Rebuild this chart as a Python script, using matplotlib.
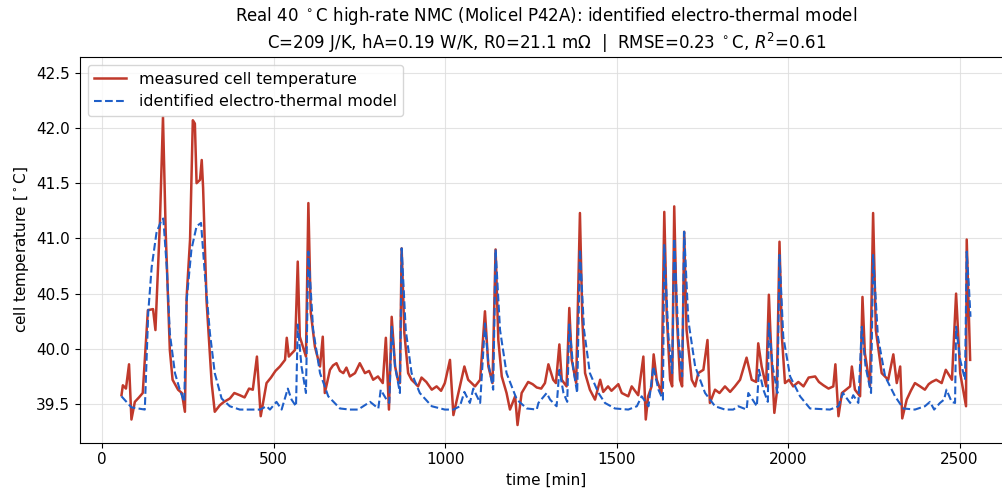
import matplotlib
matplotlib.use("Agg")
import matplotlib.pyplot as plt

# measured cell temperature (time [min], temperature [°C])
meas_t = [56, 60, 69, 78, 85, 95, 107, 118, 133, 148, 155, 168, 177, 185, 197, 205, 221, 232, 241,
          246, 256, 264, 270, 275, 285, 290, 294, 304, 319, 328, 343, 372, 401, 439, 451, 462, 479,
          518, 533, 538, 544, 562, 570, 576, 585, 594, 601, 608, 620, 635, 643, 649, 664, 683, 703,
          722, 751, 766, 804, 818, 827, 836, 844, 854, 862, 868, 873, 881, 892, 912, 931, 961, 999,
          1014, 1024, 1043, 1056, 1067, 1087, 1102, 1116, 1126, 1138, 1147, 1155, 1165, 1179, 1189,
          1204, 1211, 1223, 1242, 1267, 1291, 1301, 1315, 1323, 1333, 1340, 1354, 1362, 1369, 1382,
          1393, 1400, 1408, 1422, 1437, 1452, 1461, 1495, 1515, 1534, 1544, 1563, 1578, 1585, 1592,
          1602, 1608, 1617, 1631, 1639, 1646, 1656, 1662, 1668, 1675, 1685, 1691, 1697, 1704, 1719,
          1729, 1738, 1753, 1765, 1772, 1787, 1816, 1831, 1860, 1879, 1894, 1907, 1913, 1923, 1936,
          1944, 1949, 1955, 1960, 1967, 1975, 1982, 1991, 2015, 2045, 2079, 2103, 2132, 2138, 2147,
          2157, 2181, 2186, 2195, 2210, 2217, 2224, 2239, 2248, 2256, 2273, 2292, 2307, 2317, 2327,
          2333, 2346, 2370, 2399, 2419, 2448, 2460, 2478, 2490, 2502, 2519, 2521, 2531]
meas_T = [39.58, 39.67, 39.64, 39.86, 39.36, 39.52, 39.56, 39.60, 40.35, 40.36, 40.17, 41.14, 42.10,
          41.05, 39.99, 39.72, 39.63, 39.60, 39.43, 40.47, 40.99, 42.07, 42.04, 41.50, 41.53, 41.71,
          41.46, 40.44, 39.69, 39.43, 39.49, 39.55, 39.58, 39.63, 39.93, 39.39, 39.69, 39.84, 39.90,
          40.10, 39.93, 39.99, 40.79, 40.11, 40.02, 39.93, 41.32, 40.33, 40.02, 39.84, 40.11, 39.60,
          39.81, 39.87, 39.78, 39.75, 39.87, 39.78, 39.75, 39.69, 40.10, 39.45, 40.29, 39.84, 39.72,
          39.69, 40.91, 40.14, 39.78, 39.69, 39.74, 39.63, 39.69, 39.90, 39.40, 39.66, 39.84, 39.72,
          39.66, 39.72, 40.34, 39.84, 39.69, 40.90, 40.08, 39.75, 39.60, 39.45, 39.57, 39.31, 39.60,
          39.70, 39.65, 39.69, 39.86, 39.72, 39.69, 40.04, 39.72, 39.66, 40.37, 39.90, 39.69, 41.23,
          40.26, 39.78, 39.63, 39.54, 39.72, 39.61, 39.65, 39.60, 39.57, 39.66, 39.58, 39.93, 39.36,
          39.57, 39.66, 39.95, 39.72, 39.60, 41.24, 40.32, 39.72, 39.66, 41.29, 40.32, 39.72, 39.66,
          41.06, 40.17, 39.72, 39.66, 39.78, 39.81, 40.08, 39.51, 39.63, 39.66, 39.61, 39.72, 39.92,
          39.72, 39.70, 40.05, 39.84, 39.66, 40.49, 40.11, 39.72, 39.42, 39.60, 40.97, 40.11, 39.69,
          39.66, 39.66, 39.75, 39.67, 39.66, 39.86, 39.39, 39.60, 39.66, 39.84, 39.63, 39.57, 40.47,
          39.96, 39.66, 41.23, 40.17, 39.78, 39.72, 39.95, 39.69, 39.84, 39.37, 39.54, 39.69, 39.63,
          39.70, 39.69, 39.81, 39.72, 40.50, 39.78, 39.48, 40.99, 39.90]

# additional readings of the measured trace in its flatter stretches
meas_t_extra = [355, 385, 415, 428, 492, 505, 673, 693, 712, 737, 778, 790, 902, 921, 945, 975,
                988, 1255, 1280, 1475, 1485, 1505, 1800, 1845, 2003, 2030, 2060, 2090, 2118,
                2358, 2385, 2410, 2432]
meas_T_extra = [39.52, 39.60, 39.56, 39.64, 39.74, 39.80, 39.85, 39.80, 39.83, 39.78, 39.80, 39.72,
                39.72, 39.66, 39.70, 39.66, 39.62, 39.68, 39.64, 39.66, 39.62, 39.68, 39.60, 39.66,
                39.72, 39.70, 39.74, 39.70, 39.64, 39.62, 39.66, 39.68, 39.72]

# identified electro-thermal model
model_t = [56, 85, 124, 134, 144, 158, 173, 178, 188, 197, 212, 226, 239, 246, 260, 275, 288, 299,
           314, 328, 348, 372, 401, 460, 479, 489, 508, 523, 541, 552, 565, 570, 581, 594, 601, 615,
           635, 659, 693, 722, 746, 781, 805, 812, 829, 837, 844, 854, 868, 873, 885, 902, 926, 961,
           999, 1024, 1043, 1056, 1072, 1082, 1102, 1116, 1126, 1140, 1147, 1160, 1179, 1209, 1238,
           1267, 1272, 1296, 1306, 1325, 1333, 1345, 1356, 1362, 1374, 1385, 1393, 1405, 1422, 1447,
           1466, 1495, 1534, 1559, 1573, 1593, 1607, 1622, 1635, 1639, 1651, 1662, 1668, 1680, 1691,
           1697, 1709, 1729, 1758, 1787, 1816, 1840, 1855, 1879, 1884, 1909, 1915, 1928, 1941, 1944,
           1955, 1969, 1975, 1986, 2006, 2035, 2064, 2122, 2147, 2160, 2181, 2190, 2205, 2215, 2226,
           2242, 2248, 2262, 2283, 2312, 2336, 2370, 2399, 2414, 2426, 2443, 2455, 2462, 2477, 2487,
           2490, 2502, 2516, 2521, 2528, 2532]
model_T = [39.57, 39.47, 39.45, 40.33, 40.74, 41.05, 41.17, 41.18, 40.74, 40.14, 39.78, 39.63, 39.52,
           40.44, 40.90, 41.11, 41.14, 40.68, 40.14, 39.78, 39.55, 39.48, 39.45, 39.45, 39.48, 39.45,
           39.52, 39.45, 39.64, 39.54, 39.48, 40.22, 39.84, 39.60, 40.88, 40.17, 39.78, 39.57, 39.46,
           39.45, 39.45, 39.52, 39.46, 39.63, 39.54, 39.51, 40.20, 39.84, 39.60, 40.91, 40.17, 39.78,
           39.60, 39.48, 39.45, 39.45, 39.48, 39.61, 39.51, 39.64, 39.51, 40.23, 39.87, 39.63, 40.90,
           40.17, 39.78, 39.54, 39.46, 39.45, 39.51, 39.60, 39.54, 39.48, 39.81, 39.60, 39.52, 40.22,
           39.81, 39.60, 40.90, 40.17, 39.78, 39.60, 39.51, 39.46, 39.45, 39.48, 39.57, 39.48, 39.84,
           39.63, 39.54, 40.94, 40.11, 39.78, 41.00, 40.11, 39.75, 41.06, 40.26, 39.84, 39.60, 39.48,
           39.45, 39.45, 39.48, 39.45, 39.60, 39.48, 39.81, 39.63, 39.52, 40.23, 39.84, 39.60, 40.85,
           40.11, 39.75, 39.57, 39.46, 39.45, 39.48, 39.60, 39.51, 39.58, 39.51, 40.20, 39.84, 39.60,
           40.85, 40.11, 39.75, 39.57, 39.46, 39.45, 39.48, 39.52, 39.45, 39.51, 39.54, 39.63, 39.52,
           39.51, 40.20, 39.90, 39.72, 40.88, 40.53, 40.29]

x_ticks = [0, 500, 1000, 1500, 2000, 2500]
y_ticks = [39.5, 40.0, 40.5, 41.0, 41.5, 42.0, 42.5]

# merge the measured readings in time order
pairs = sorted(zip(meas_t + meas_t_extra, meas_T + meas_T_extra), key=lambda p: p[0])
m_t = [p[0] for p in pairs]
m_T = [p[1] for p in pairs]

plt.rcParams['font.family'] = ['DejaVu Sans']
plt.rcParams['font.size'] = 11

fig = plt.figure(figsize=(10.03, 4.91), dpi=100)
ax = fig.add_axes([80 / 1003, (491 - 442.7) / 491, 933 / 1003, 385.4 / 491])

ax.plot(m_t, m_T, color='#c0392b', lw=1.8, label='measured cell temperature', zorder=2)
ax.plot(model_t, model_T, color='#1f5fc8', lw=1.5, ls='--', label='identified electro-thermal model', zorder=3)

ax.set_xlim(-65, 2656)
ax.set_ylim(39.15, 42.64)
ax.set_xticks(x_ticks)
ax.set_yticks(y_ticks)
ax.grid(True, color='#dddddd', lw=0.8, alpha=0.8)
ax.set_axisbelow(True)
ax.set_xlabel('time [min]')
ax.set_ylabel(r'cell temperature [$^\circ$C]')
ax.set_title('Real 40 $^\\circ$C high-rate NMC (Molicel P42A): identified electro-thermal model\n'
             'C=209 J/K, hA=0.19 W/K, R0=21.1 m\u03a9  |  RMSE=0.23 $^\\circ$C, $R^2$=0.61',
             fontsize=12)
ax.legend(loc='upper left', fontsize=11.4)

fig.savefig('out.png', dpi=100)
